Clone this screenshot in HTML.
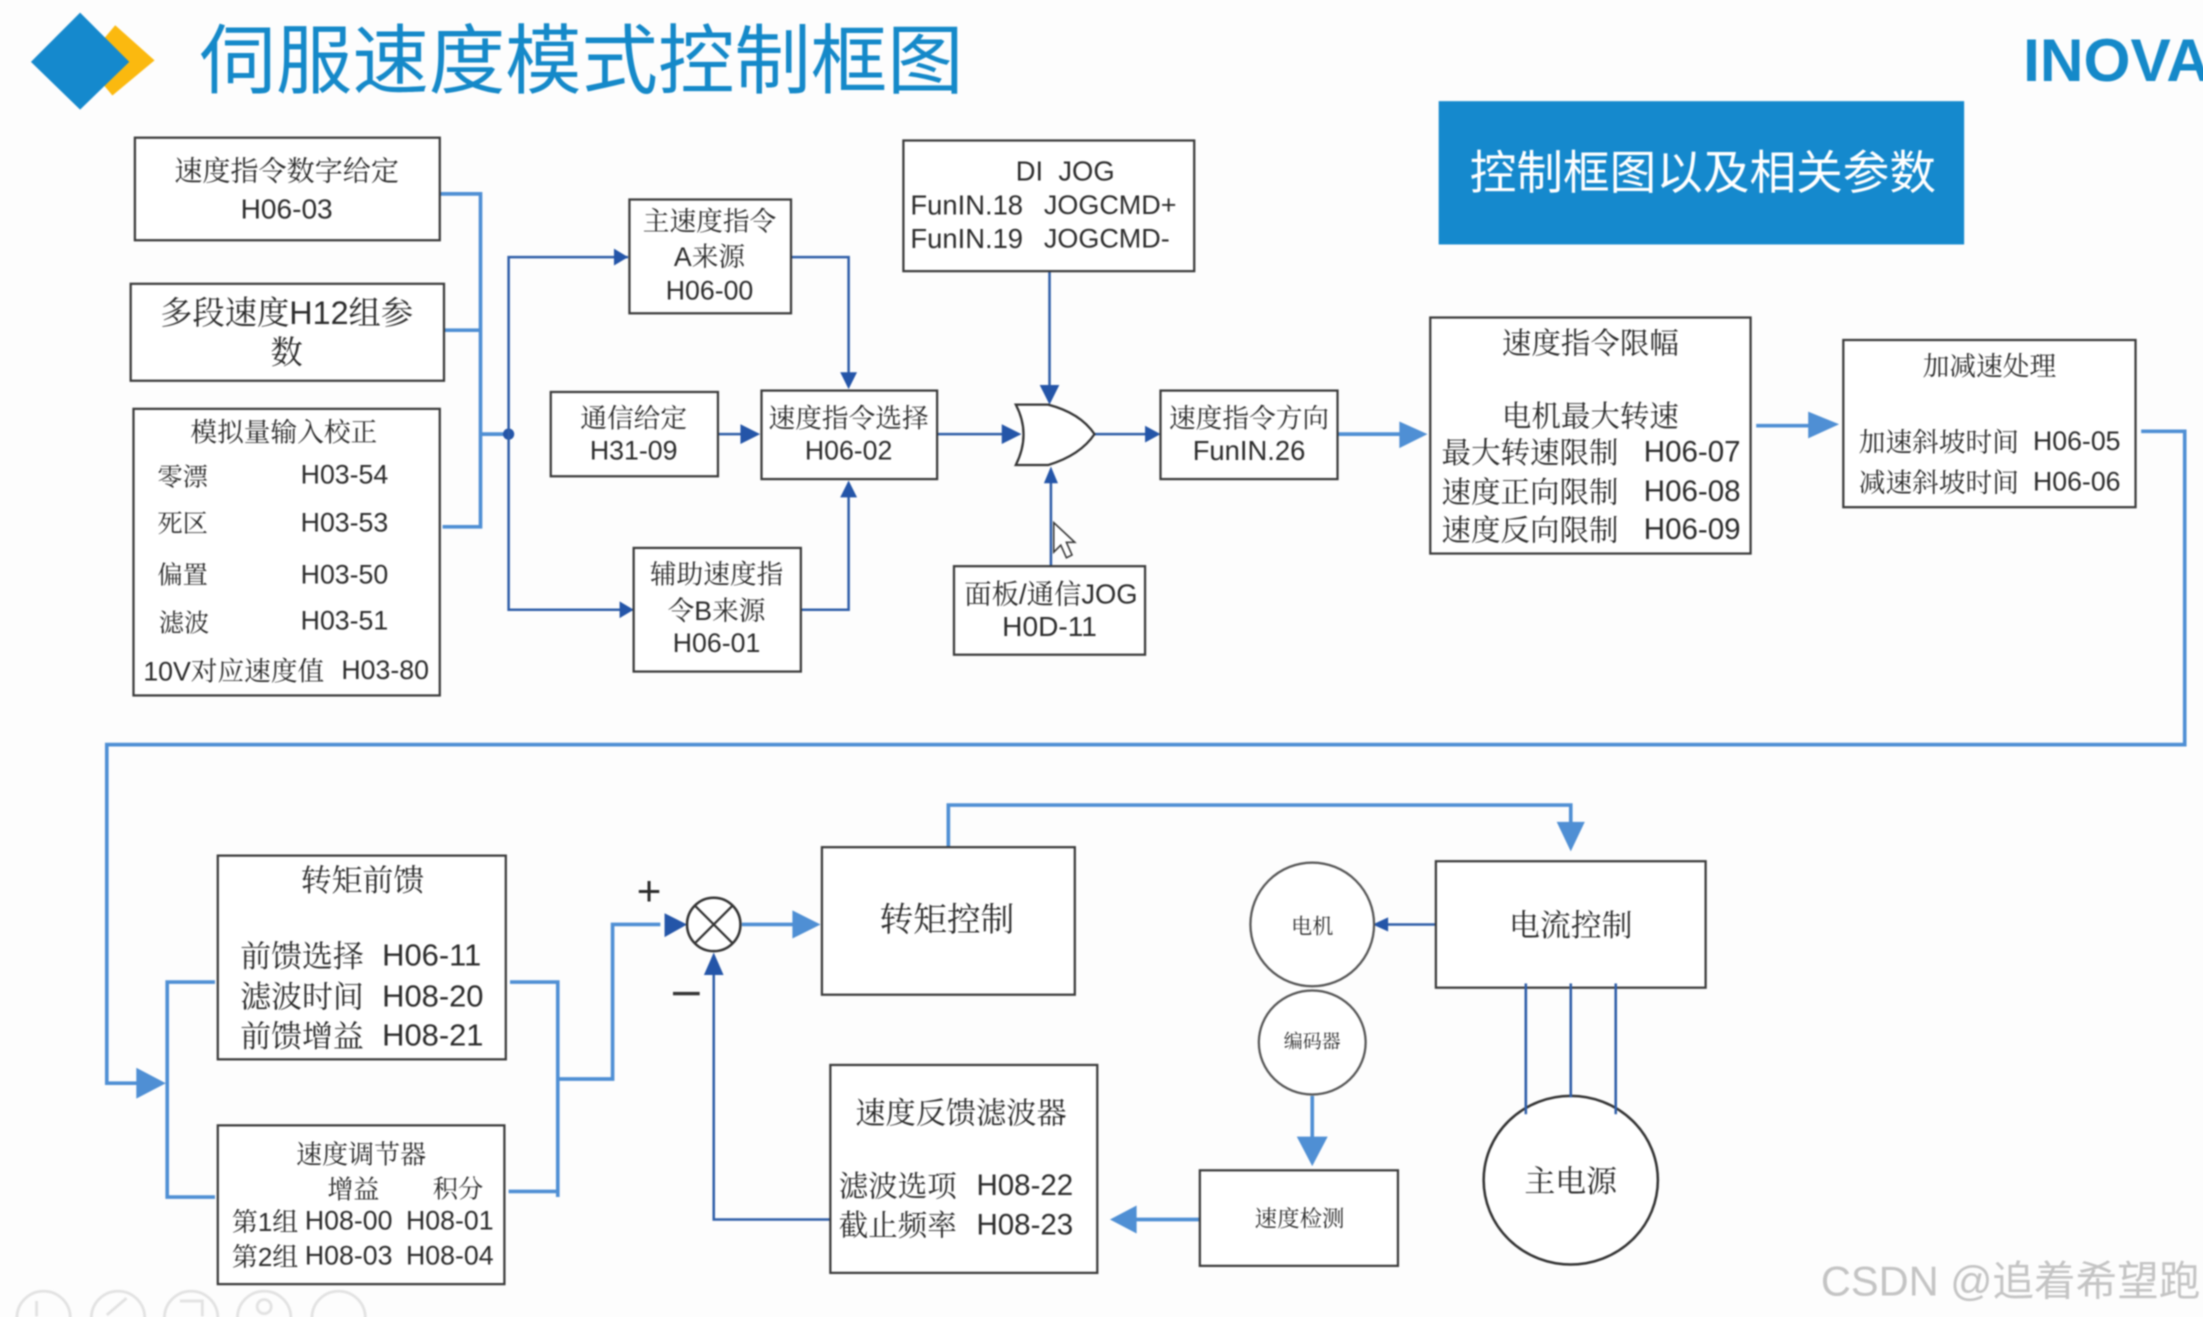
<!DOCTYPE html>
<html>
<head>
<meta charset="utf-8">
<style>
html,body{margin:0;padding:0;background:#fdfdfd;width:2203px;height:1317px;overflow:hidden}
svg{display:block}
text{font-family:"Liberation Sans","Noto Serif CJK SC",serif;fill:#2b2b2b;dominant-baseline:central;transform:translateY(0.8px)}
.m{text-anchor:middle}
.sans{font-family:"Liberation Sans","Noto Sans CJK SC",sans-serif}
.box{fill:#fff;stroke:#3a3a3a;stroke-width:1.6}
.lt{fill:none;stroke:#4f8fd4;stroke-width:2.6}
.dk{fill:none;stroke:#2f5ea8;stroke-width:1.8}
.ah{fill:#4f8fd4}
.ad{fill:#2455a8}
</style>
</head>
<body>
<svg xmlns="http://www.w3.org/2000/svg" width="2203" height="1317" viewBox="0 0 1568 937.4">
<rect width="1568" height="938" fill="#fdfdfd"/>
<g style="filter:blur(0.5px)">
<!-- logo -->
<polygon points="82,18 110,43 80,68 60,44" fill="#fbb90f"/>
<polygon points="57,9 92,44 57,78 22,44" fill="#1589cd"/>
<text class="sans" x="142" y="43.5" font-size="54.4" style="fill:#1589c9">伺服速度模式控制框图</text>
<text class="sans" x="1440" y="42" font-size="43" font-weight="bold" style="fill:#1589c9">INOVANCE</text>
<rect x="1024" y="72" width="374" height="102" fill="#1589cd"/>
<text class="sans m" x="1212" y="122.5" font-size="33.2" style="fill:#fff">控制框图以及相关参数</text>

<!-- connectors top -->
<path class="lt" d="M313,138H342V375H315M316,235H342M342,309H362"/>
<circle cx="362" cy="309" r="4" fill="#2455a8"/>
<path class="dk" d="M447,183H362V434H450M563,183H604V268M570,434H604V352"/>
<polygon class="ad" points="447,183 437,177 437,189"/>
<polygon class="ad" points="451,434 441,428 441,440"/>
<polygon class="ad" points="604,277 598,265 610,265"/>
<polygon class="ad" points="604,342 598,354 610,354"/>
<path class="dk" stroke-width="2.4" d="M511,309H530M667,309H715"/>
<polygon class="ad" points="541,309 527,302 527,316"/>
<polygon class="ad" points="727,309 713,302 713,316"/>
<path class="dk" d="M747,193V278M748,403V342M779,309H816"/>
<polygon class="ad" points="747,288 740,274 754,274"/>
<polygon class="ad" points="748,332 743,344 753,344"/>
<polygon class="ad" points="826,309 815,303 815,315"/>
<path d="M723,288H746Q769,294 779,309Q769,324 746,331H723Q734,309 723,288Z" fill="#fff" stroke="#333" stroke-width="1.6"/>
<path class="lt" d="M952,309H1000M1250,303H1292M1524,307H1555V530H76V771H100"/>
<polygon class="ah" points="1016,309 996,300 996,319"/>
<polygon class="ah" points="1309,302 1287,293 1287,312"/>
<polygon class="ah" points="118,771 97,760 97,782"/>

<!-- connectors bottom -->
<path class="lt" d="M153,699H119V852H153M363,699H397V852M362,848H397M397,768H436V658H470M528,658H570M675,603V573H1118V590M934,780V815M854,868H805"/>
<polygon class="ad" points="489,658 473,650 473,667"/>
<polygon class="ah" points="584,658 564,648 564,668"/>
<polygon class="ah" points="1118,606 1108,585 1128,585"/>
<polygon class="ah" points="934,830 923,809 945,809"/>
<polygon class="ah" points="790,868 809,858 809,878"/>
<path class="dk" d="M591,868H508V690M1022,658H984M1086,700V793M1118,700V781M1150,700V793"/>
<polygon class="ad" points="508,678 501,694 515,694"/>
<polygon class="ad" points="977,658 988,653 988,663"/>

<!-- boxes -->
<rect class="box" x="96" y="98" width="217" height="73"/>
<text class="m" x="204" y="121" font-size="20">速度指令数字给定</text>
<text class="m" x="204" y="148" font-size="20">H06-03</text>

<rect class="box" x="93" y="202" width="223" height="69"/>
<text class="m" x="204" y="222" font-size="23">多段速度H12组参</text>
<text class="m" x="204" y="250" font-size="23">数</text>

<rect class="box" x="95" y="291" width="218" height="204"/>
<text class="m" x="202" y="307" font-size="19">模拟量输入校正</text>
<text x="112" y="339" font-size="18">零漂</text><text x="214" y="337" font-size="19">H03-54</text>
<text x="112" y="372" font-size="18">死区</text><text x="214" y="371" font-size="19">H03-53</text>
<text x="112" y="409" font-size="18">偏置</text><text x="214" y="408" font-size="19">H03-50</text>
<text x="113" y="443" font-size="18">滤波</text><text x="214" y="441" font-size="19">H03-51</text>
<text x="102" y="477" font-size="19">10V对应速度值</text><text x="243" y="476" font-size="19">H03-80</text>

<rect class="box" x="448" y="142" width="115" height="81"/>
<text class="m" x="505" y="157" font-size="19">主速度指令</text>
<text class="m" x="505" y="182" font-size="19">A来源</text>
<text class="m" x="505" y="206" font-size="19">H06-00</text>

<rect class="box" x="392" y="279" width="119" height="60"/>
<text class="m" x="451" y="297" font-size="19">通信给定</text>
<text class="m" x="451" y="320" font-size="19">H31-09</text>

<rect class="box" x="542" y="278" width="125" height="63"/>
<text class="m" x="604" y="297" font-size="19">速度指令选择</text>
<text class="m" x="604" y="320" font-size="19">H06-02</text>

<rect class="box" x="451" y="390" width="119" height="88"/>
<text class="m" x="510" y="408" font-size="19">辅助速度指</text>
<text class="m" x="510" y="434" font-size="19">令B来源</text>
<text class="m" x="510" y="457" font-size="19">H06-01</text>

<rect class="box" x="643" y="100" width="207" height="93"/>
<text x="723" y="121" font-size="19.5" xml:space="preserve">DI  JOG</text>
<text x="648" y="145" font-size="19.5">FunIN.18</text><text x="743" y="145" font-size="19.2">JOGCMD+</text>
<text x="648" y="169" font-size="19.5">FunIN.19</text><text x="743" y="169" font-size="19.2">JOGCMD-</text>

<rect class="box" x="679" y="403" width="136" height="63"/>
<text class="m" x="748" y="422" font-size="19.5">面板/通信JOG</text>
<text class="m" x="747" y="445" font-size="20">H0D-11</text>

<rect class="box" x="826" y="278" width="126" height="63"/>
<text class="m" x="889" y="297" font-size="19">速度指令方向</text>
<text class="m" x="889" y="320" font-size="19.5">FunIN.26</text>

<rect class="box" x="1018" y="226" width="228" height="168"/>
<text class="m" x="1132" y="244" font-size="21">速度指令限幅</text>
<text class="m" x="1132" y="296" font-size="21">电机最大转速</text>
<text x="1026" y="322" font-size="21">最大转速限制</text><text x="1170" y="321" font-size="21">H06-07</text>
<text x="1026" y="350" font-size="21">速度正向限制</text><text x="1170" y="349" font-size="21">H06-08</text>
<text x="1026" y="377" font-size="21">速度反向限制</text><text x="1170" y="376" font-size="21">H06-09</text>

<rect class="box" x="1312" y="242" width="208" height="119"/>
<text class="m" x="1416" y="260" font-size="19">加减速处理</text>
<text x="1323" y="314" font-size="19">加速斜坡时间</text><text x="1447" y="313" font-size="19">H06-05</text>
<text x="1323" y="343" font-size="19">减速斜坡时间</text><text x="1447" y="342" font-size="19">H06-06</text>

<rect class="box" x="155" y="609" width="205" height="145"/>
<text class="m" x="258" y="626" font-size="22">转矩前馈</text>
<text x="171" y="680" font-size="22">前馈选择</text><text x="272" y="679" font-size="22">H06-11</text>
<text x="171" y="709" font-size="22">滤波时间</text><text x="272" y="708" font-size="22">H08-20</text>
<text x="171" y="737" font-size="22">前馈增益</text><text x="272" y="736" font-size="22">H08-21</text>

<rect class="box" x="155" y="801" width="204" height="113"/>
<text class="m" x="257" y="821" font-size="18.5">速度调节器</text>
<text x="233" y="846" font-size="18.5">增益</text><text x="308" y="846" font-size="18">积分</text>
<text x="165" y="869" font-size="18.5">第1组</text><text x="217" y="868" font-size="19">H08-00</text><text x="289" y="868" font-size="19">H08-01</text>
<text x="165" y="894" font-size="18.5">第2组</text><text x="217" y="893" font-size="19">H08-03</text><text x="289" y="893" font-size="19">H08-04</text>

<text class="m" x="462" y="633" font-size="30" font-family="Liberation Serif">+</text>
<rect x="479" y="706" width="19" height="2.4" fill="#333"/>
<circle cx="508" cy="658" r="19" fill="#fff" stroke="#333" stroke-width="1.8"/>
<path d="M495,645L521,671M521,645L495,671" stroke="#333" stroke-width="1.6"/>

<rect class="box" x="585" y="603" width="180" height="105"/>
<text class="m" x="674" y="654" font-size="24">转矩控制</text>

<rect class="box" x="591" y="758" width="190" height="148"/>
<text class="m" x="684" y="792" font-size="21.5">速度反馈滤波器</text>
<text x="597" y="844" font-size="21">滤波选项</text><text x="695" y="843" font-size="21">H08-22</text>
<text x="597" y="872" font-size="21">截止频率</text><text x="695" y="871" font-size="21">H08-23</text>

<rect class="box" x="1022" y="613" width="192" height="90"/>
<text class="m" x="1118" y="658" font-size="22">电流控制</text>

<rect class="box" x="854" y="833" width="141" height="68"/>
<text class="m" x="925" y="867" font-size="16">速度检测</text>

<ellipse cx="934" cy="658" rx="44" ry="44" fill="#fff" stroke="#555" stroke-width="1.6"/>
<text class="m" x="934" y="659" font-size="15">电机</text>
<ellipse cx="934" cy="742" rx="38" ry="37" fill="#fff" stroke="#555" stroke-width="1.6"/>
<text class="m" x="934" y="741" font-size="13.5">编码器</text>
<ellipse cx="1118" cy="840" rx="62" ry="60" fill="#fff" stroke="#333" stroke-width="1.8"/>
<text class="m" x="1118" y="840" font-size="22">主电源</text>
<path d="M1086,700V793M1118,700V781M1150,700V793" fill="none" stroke="#2f5ea8" stroke-width="1.8"/>

<!-- cursor -->
<path d="M750,372V393L755,388L759,397L763,395L759,386L765,386Z" fill="#fff" stroke="#333" stroke-width="1.1"/>

<!-- toolbar -->
<g fill="none" stroke="#e2e2e2" stroke-width="2">
<circle cx="31" cy="938" r="19"/><circle cx="84" cy="938" r="19"/><circle cx="136" cy="938" r="19"/><circle cx="188" cy="938" r="19"/><circle cx="241" cy="938" r="19"/>
<path d="M26,926V937M76,936L90,924M128,926H144V937M183,930a5,5 0 1,0 10,0a5,5 0 1,0 -10,0"/>
</g>

<text class="sans" x="1296" y="911" font-size="29.6" style="fill:#c4c4c4">CSDN @追着希望跑</text>
</g>
</svg>
</body>
</html>
